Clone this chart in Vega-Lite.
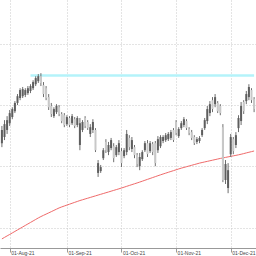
{
  "$schema": "https://vega.github.io/schema/vega-lite/v6.json",
  "width": 256,
  "height": 248,
  "padding": {"left": 0, "right": 0, "top": 0, "bottom": 8},
  "autosize": "none",
  "background": "white",
  "config": {"view": {"stroke": null}},
  "datasets": {
    "ohlc": [
      {"d":"2021-07-28","open":127.6,"high":133.2,"low":126.3,"close":131.9,"ma":96.41},
      {"d":"2021-07-29","open":129.6,"high":135.1,"low":128.6,"close":133.8,"ma":96.90},
      {"d":"2021-07-30","open":131.9,"high":136.4,"low":130.6,"close":135.1,"ma":97.39},
      {"d":"2021-08-02","open":134.1,"high":138.4,"low":133.2,"close":137.4,"ma":97.87},
      {"d":"2021-08-03","open":136.1,"high":139.3,"low":135.4,"close":138.7,"ma":98.36},
      {"d":"2021-08-04","open":138.0,"high":141.3,"low":137.4,"close":140.7,"ma":98.85},
      {"d":"2021-08-05","open":140.7,"high":143.6,"low":140.0,"close":142.9,"ma":99.34},
      {"d":"2021-08-06","open":142.3,"high":145.5,"low":141.6,"close":144.9,"ma":99.82},
      {"d":"2021-08-09","open":142.9,"high":145.9,"low":142.3,"close":145.2,"ma":100.31},
      {"d":"2021-08-10","open":143.3,"high":145.5,"low":142.6,"close":144.9,"ma":100.80},
      {"d":"2021-08-11","open":143.9,"high":146.2,"low":143.3,"close":145.5,"ma":101.29},
      {"d":"2021-08-12","open":144.6,"high":146.8,"low":143.9,"close":146.2,"ma":101.77},
      {"d":"2021-08-13","open":145.5,"high":148.1,"low":144.9,"close":147.5,"ma":102.26},
      {"d":"2021-08-16","open":146.8,"high":149.4,"low":146.2,"close":148.8,"ma":102.75},
      {"d":"2021-08-17","open":147.8,"high":150.1,"low":147.2,"close":149.4,"ma":103.24},
      {"d":"2021-08-18","open":149.4,"high":150.4,"low":146.2,"close":147.2,"ma":103.69},
      {"d":"2021-08-19","open":146.5,"high":147.5,"low":142.6,"close":143.6,"ma":104.09},
      {"d":"2021-08-20","open":145.5,"high":146.2,"low":141.6,"close":142.3,"ma":104.49},
      {"d":"2021-08-23","open":142.6,"high":143.6,"low":138.4,"close":139.3,"ma":104.89},
      {"d":"2021-08-24","open":139.7,"high":140.7,"low":136.1,"close":137.1,"ma":105.29},
      {"d":"2021-08-25","open":136.4,"high":139.3,"low":135.8,"close":138.7,"ma":105.70},
      {"d":"2021-08-26","open":137.7,"high":140.3,"low":137.1,"close":139.7,"ma":106.10},
      {"d":"2021-08-27","open":139.3,"high":140.0,"low":136.4,"close":137.1,"ma":106.50},
      {"d":"2021-08-30","open":137.1,"high":137.7,"low":134.1,"close":134.8,"ma":106.83},
      {"d":"2021-08-31","open":136.7,"high":137.4,"low":132.8,"close":133.5,"ma":107.13},
      {"d":"2021-09-01","open":133.8,"high":136.7,"low":133.2,"close":136.1,"ma":107.43},
      {"d":"2021-09-02","open":135.8,"high":136.4,"low":132.8,"close":133.5,"ma":107.72},
      {"d":"2021-09-03","open":134.1,"high":137.1,"low":133.5,"close":136.4,"ma":108.02},
      {"d":"2021-09-07","open":135.4,"high":136.1,"low":132.5,"close":133.2,"ma":108.32},
      {"d":"2021-09-08","open":133.5,"high":136.4,"low":132.8,"close":135.8,"ma":108.61},
      {"d":"2021-09-09","open":127.0,"high":135.8,"low":125.3,"close":134.1,"ma":108.91},
      {"d":"2021-09-10","open":131.9,"high":135.1,"low":131.2,"close":134.5,"ma":109.16},
      {"d":"2021-09-13","open":135.8,"high":136.4,"low":132.5,"close":133.2,"ma":109.42},
      {"d":"2021-09-14","open":134.5,"high":135.1,"low":131.9,"close":132.5,"ma":109.67},
      {"d":"2021-09-15","open":130.6,"high":133.8,"low":129.6,"close":132.8,"ma":109.92},
      {"d":"2021-09-16","open":131.9,"high":135.4,"low":130.9,"close":134.5,"ma":110.18},
      {"d":"2021-09-17","open":131.9,"high":132.5,"low":124.7,"close":125.3,"ma":110.43},
      {"d":"2021-09-20","open":117.9,"high":122.1,"low":116.6,"close":121.1,"ma":110.69},
      {"d":"2021-09-21","open":118.5,"high":120.5,"low":117.9,"close":119.8,"ma":110.94},
      {"d":"2021-09-22","open":122.7,"high":126.0,"low":122.1,"close":125.3,"ma":111.19},
      {"d":"2021-09-23","open":128.0,"high":128.9,"low":124.4,"close":125.3,"ma":111.45},
      {"d":"2021-09-24","open":124.7,"high":128.0,"low":123.7,"close":127.0,"ma":111.70},
      {"d":"2021-09-27","open":126.0,"high":129.3,"low":125.3,"close":128.6,"ma":111.96},
      {"d":"2021-09-28","open":126.6,"high":127.6,"low":121.4,"close":122.7,"ma":112.21},
      {"d":"2021-09-29","open":123.7,"high":127.0,"low":123.1,"close":126.3,"ma":112.47},
      {"d":"2021-09-30","open":124.7,"high":128.6,"low":123.7,"close":127.6,"ma":112.72},
      {"d":"2021-10-01","open":125.0,"high":126.0,"low":119.8,"close":121.1,"ma":112.99},
      {"d":"2021-10-04","open":123.4,"high":126.0,"low":122.7,"close":125.3,"ma":113.26},
      {"d":"2021-10-05","open":124.7,"high":131.9,"low":123.7,"close":130.6,"ma":113.54},
      {"d":"2021-10-06","open":129.3,"high":130.2,"low":125.3,"close":126.3,"ma":113.82},
      {"d":"2021-10-07","open":125.7,"high":129.6,"low":124.7,"close":128.6,"ma":114.09},
      {"d":"2021-10-08","open":126.3,"high":127.0,"low":122.7,"close":123.7,"ma":114.37},
      {"d":"2021-10-11","open":123.7,"high":124.4,"low":119.8,"close":120.8,"ma":114.64},
      {"d":"2021-10-12","open":120.1,"high":124.4,"low":118.8,"close":123.1,"ma":114.92},
      {"d":"2021-10-13","open":122.4,"high":125.3,"low":121.8,"close":124.7,"ma":115.21},
      {"d":"2021-10-14","open":125.3,"high":128.3,"low":124.7,"close":127.6,"ma":115.51},
      {"d":"2021-10-15","open":127.6,"high":128.6,"low":123.1,"close":124.0,"ma":115.81},
      {"d":"2021-10-18","open":125.0,"high":128.3,"low":124.4,"close":127.6,"ma":116.10},
      {"d":"2021-10-19","open":127.3,"high":128.0,"low":123.7,"close":124.7,"ma":116.40},
      {"d":"2021-10-20","open":127.6,"high":128.3,"low":120.1,"close":121.1,"ma":116.69},
      {"d":"2021-10-21","open":125.3,"high":129.9,"low":124.4,"close":128.9,"ma":116.99},
      {"d":"2021-10-22","open":126.6,"high":130.2,"low":126.0,"close":129.6,"ma":117.28},
      {"d":"2021-10-25","open":128.3,"high":130.2,"low":127.6,"close":129.6,"ma":117.56},
      {"d":"2021-10-26","open":128.6,"high":130.9,"low":128.0,"close":130.2,"ma":117.83},
      {"d":"2021-10-27","open":128.9,"high":131.2,"low":128.3,"close":130.6,"ma":118.11},
      {"d":"2021-10-28","open":129.3,"high":131.9,"low":128.6,"close":131.2,"ma":118.38},
      {"d":"2021-10-29","open":131.9,"high":132.5,"low":128.0,"close":128.6,"ma":118.65},
      {"d":"2021-11-01","open":134.5,"high":135.1,"low":130.2,"close":130.9,"ma":118.93},
      {"d":"2021-11-02","open":129.9,"high":132.8,"low":129.3,"close":132.2,"ma":119.20},
      {"d":"2021-11-03","open":132.5,"high":134.8,"low":131.9,"close":134.1,"ma":119.46},
      {"d":"2021-11-04","open":133.5,"high":136.1,"low":132.8,"close":135.4,"ma":119.69},
      {"d":"2021-11-05","open":134.8,"high":135.4,"low":131.9,"close":132.5,"ma":119.93},
      {"d":"2021-11-08","open":132.2,"high":132.8,"low":130.2,"close":130.9,"ma":120.16},
      {"d":"2021-11-09","open":131.2,"high":131.9,"low":128.6,"close":129.3,"ma":120.39},
      {"d":"2021-11-10","open":129.6,"high":130.2,"low":127.0,"close":127.6,"ma":120.63},
      {"d":"2021-11-11","open":128.0,"high":129.6,"low":127.3,"close":128.9,"ma":120.86},
      {"d":"2021-11-12","open":128.3,"high":129.9,"low":127.6,"close":129.3,"ma":121.10},
      {"d":"2021-11-15","open":130.2,"high":132.5,"low":129.6,"close":131.9,"ma":121.29},
      {"d":"2021-11-16","open":132.5,"high":135.8,"low":131.9,"close":135.1,"ma":121.48},
      {"d":"2021-11-17","open":134.8,"high":139.7,"low":133.8,"close":138.7,"ma":121.67},
      {"d":"2021-11-18","open":137.4,"high":141.3,"low":136.4,"close":140.3,"ma":121.86},
      {"d":"2021-11-19","open":141.6,"high":142.6,"low":137.7,"close":138.7,"ma":122.05},
      {"d":"2021-11-22","open":140.3,"high":143.6,"low":139.3,"close":142.6,"ma":122.24},
      {"d":"2021-11-23","open":140.7,"high":141.3,"low":137.4,"close":138.0,"ma":122.43},
      {"d":"2021-11-24","open":139.7,"high":140.3,"low":136.7,"close":137.4,"ma":122.62},
      {"d":"2021-11-26","open":132.8,"high":133.8,"low":114.9,"close":115.6,"ma":122.79},
      {"d":"2021-11-29","open":115.6,"high":122.1,"low":114.3,"close":120.8,"ma":122.96},
      {"d":"2021-11-30","open":113.0,"high":121.1,"low":111.3,"close":118.8,"ma":123.13},
      {"d":"2021-12-01","open":124.0,"high":130.6,"low":123.1,"close":129.6,"ma":123.30},
      {"d":"2021-12-02","open":128.9,"high":129.6,"low":124.0,"close":125.0,"ma":123.46},
      {"d":"2021-12-03","open":127.0,"high":131.2,"low":126.0,"close":130.2,"ma":123.63},
      {"d":"2021-12-06","open":132.5,"high":136.7,"low":131.2,"close":135.8,"ma":123.80},
      {"d":"2021-12-07","open":134.8,"high":141.0,"low":133.5,"close":139.7,"ma":123.99},
      {"d":"2021-12-08","open":141.0,"high":141.6,"low":137.1,"close":138.0,"ma":124.20},
      {"d":"2021-12-09","open":141.3,"high":144.6,"low":140.3,"close":143.6,"ma":124.42},
      {"d":"2021-12-10","open":142.6,"high":146.8,"low":141.6,"close":145.9,"ma":124.63},
      {"d":"2021-12-13","open":144.9,"high":145.5,"low":140.7,"close":141.6,"ma":124.84},
      {"d":"2021-12-14","open":142.0,"high":142.6,"low":137.7,"close":138.7,"ma":125.05}
    ],
    "level": [{"start":"2021-08-12","end":"2021-12-14","price":149.65}]
  },
  "layer": [
    {
      "data": {"name": "level"},
      "mark": {"type": "rule", "color": "#b4f3fa", "strokeWidth": 2.5},
      "encoding": {
        "x": {"field": "start", "type": "ordinal", "title": null, "scale": {"type": "point", "padding": 0.73},
          "axis": {
            "values": ["2021-08-02","2021-09-01","2021-10-01","2021-11-01","2021-12-01"],
            "labelExpr": "datum.value == '2021-08-02' ? '01-Aug-21' : datum.value == '2021-09-01' ? '01-Sep-21' : datum.value == '2021-10-01' ? '01-Oct-21' : datum.value == '2021-11-01' ? '01-Nov-21' : '01-Dec-21'",
            "labelAngle": 0, "labelAlign": "left", "labelBaseline": "middle", "labelOffset": 1,
            "labelFontSize": 5, "labelFont": "Liberation Sans", "labelColor": "#444444",
            "labelPadding": 0, "tickSize": 4, "tickColor": "#999999",
            "domainColor": "#999999", "grid": true, "gridDash": [1, 2], "gridColor": "#c8c8c8"
          }},
        "x2": {"field": "end"},
        "y": {"field": "price", "type": "quantitative", "title": null,
          "scale": {"domain": [93.45, 174.23], "nice": false, "zero": false},
          "axis": {"values": [100,110,120,130,140,150,160,170], "labels": false, "ticks": false, "domain": false,
            "grid": true, "gridDash": [1, 2], "gridColor": "#c8c8c8"}}
      }
    },
    {
      "data": {"name": "ohlc"},
      "mark": {"type": "line", "color": "#ef6a6a", "strokeWidth": 1},
      "encoding": {
        "x": {"field": "d", "type": "ordinal", "title": null},
        "y": {"field": "ma", "type": "quantitative", "title": null}
      }
    },
    {
      "data": {"name": "ohlc"},
      "mark": {"type": "rule", "color": "#6e6e6e", "strokeWidth": 1},
      "encoding": {
        "x": {"field": "d", "type": "ordinal", "title": null},
        "y": {"field": "low", "type": "quantitative", "title": null},
        "y2": {"field": "high"}
      }
    },
    {
      "data": {"name": "ohlc"},
      "mark": {"type": "bar", "size": 2},
      "encoding": {
        "x": {"field": "d", "type": "ordinal", "title": null},
        "y": {"field": "open", "type": "quantitative", "title": null},
        "y2": {"field": "close"},
        "color": {"condition": {"test": "datum.close < datum.open", "value": "#c8c8c8"}, "value": "#5e5e5e"}
      }
    }
  ]
}
